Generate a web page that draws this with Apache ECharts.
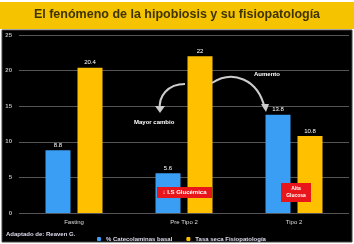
<!DOCTYPE html>
<html>
<head>
<meta charset="utf-8">
<script src="https://cdn.jsdelivr.net/npm/echarts@6/dist/echarts.min.js"></script>
<style>
  html, body { margin: 0; padding: 0; background: #fff; }
  #chart { width: 354px; height: 244px; }
</style>
</head>
<body>
<div id="chart"></div>
<script>
// datos del gráfico
var categories = ['Fasting', 'Pre Tipo 2', 'Tipo 2'];
var blueValues = [8.8, 5.6, 13.8];
var yellowValues = [20.4, 22, 10.8];
var yTicks = [0, 5, 10, 15, 20, 25];
var seriesNames = ['% Catecolaminas basal', 'Tasa seca Fisiopatología'];

var myChart = echarts.init(document.getElementById('chart'));

var option = {
  backgroundColor: '#fff',
  animation: false,
  textStyle: { fontFamily: 'Liberation Sans' },
  graphic: [
    // franja del título
    { type: 'rect', shape: { x: 0, y: 2, width: 354, height: 27 }, style: { fill: '#f6c300' }, z: -10 },
    { type: 'rect', shape: { x: 2, y: 30, width: 350, height: 212 }, style: { fill: '#000', stroke: '#444', lineWidth: 1 }, z: -10 },
    { type: 'text', left: 'center', top: 8, style: { text: 'El fenómeno de la hipobiosis y su fisiopatología', fill: '#3f3400', font: 'bold 12.5px "Liberation Sans"' } },
    // fuente
    { type: 'text', left: 6, top: 231, style: { text: 'Adaptado de: Reaven G.', fill: '#dde', font: 'bold 6px "Liberation Sans"' } },
    // flecha "Mayor cambio"
    { type: 'bezierCurve', shape: { x1: 185, y1: 84, x2: 160, y2: 110, cpx1: 168, cpy1: 84, cpx2: 158, cpy2: 96 },
      style: { stroke: '#ccc', lineWidth: 2, fill: null }, z: 20 },
    { type: 'polygon', shape: { points: [[155, 106], [165, 106], [160, 113]] }, style: { fill: '#ccc' }, z: 20 },
    { type: 'text', left: 134, top: 119, style: { text: 'Mayor cambio', fill: '#fff', font: 'bold 6px "Liberation Sans"' }, z: 20 },
    // flecha "Aumento"
    { type: 'bezierCurve', shape: { x1: 212, y1: 83, x2: 265, y2: 109, cpx1: 232, cpy1: 70, cpx2: 258, cpy2: 78 },
      style: { stroke: '#ccc', lineWidth: 2, fill: null }, z: 20 },
    { type: 'polygon', shape: { points: [[261, 104], [269, 104], [266, 112]] }, style: { fill: '#ccc' }, z: 20 },
    { type: 'text', left: 254, top: 71, style: { text: 'Aumento', fill: '#fff', font: 'bold 6px "Liberation Sans"' }, z: 20 },
    // recuadros rojos
    { type: 'rect', shape: { x: 157, y: 187, width: 55, height: 11 }, style: { fill: '#e8161b' }, z: 30 },
    { type: 'text', x: 184.5, y: 192.5, style: { text: '↓ I.S Glucémica', fill: '#fff', font: 'bold 6px "Liberation Sans"', align: 'center', verticalAlign: 'middle' }, z: 31 },
    { type: 'rect', shape: { x: 281, y: 183, width: 30, height: 19 }, style: { fill: '#e8161b' }, z: 30 },
    { type: 'text', x: 296, y: 192.5, style: { text: 'Alta\nGlucosa', fill: '#fff', font: 'bold 5px "Liberation Sans"', align: 'center', verticalAlign: 'middle', lineHeight: 7 }, z: 31 }
  ],
  grid: { left: 19, right: 5, top: 35, bottom: 31 },
  legend: {
    left: 92, top: 231, itemWidth: 4, itemHeight: 4, itemGap: 14,
    textStyle: { color: '#dde', fontSize: 6, fontWeight: 'bold' },
    data: seriesNames
  },
  xAxis: {
    type: 'category',
    data: categories,
    axisLine: { show: false },
    axisTick: { show: false },
    axisLabel: { color: '#ddd', fontSize: 6, margin: 6 }
  },
  yAxis: {
    type: 'value',
    min: yTicks[0],
    max: yTicks[yTicks.length - 1],
    interval: 5,
    axisLabel: { color: '#bbb', fontSize: 6, margin: 7, fontWeight: 'bold' },
    splitLine: { lineStyle: { color: '#555', width: 1 } }
  },
  series: [
    {
      name: seriesNames[0], type: 'bar', data: blueValues,
      barWidth: 25, barGap: '28%',
      itemStyle: { color: '#3a9ef5' },
      label: { show: true, position: 'top', color: '#fff', fontSize: 6, distance: 2 }
    },
    {
      name: seriesNames[1], type: 'bar', data: yellowValues,
      barWidth: 25,
      itemStyle: { color: '#ffc000' },
      label: { show: true, position: 'top', color: '#fff', fontSize: 6, distance: 2 }
    }
  ]
};

myChart.setOption(option);
</script>
</body>
</html>
